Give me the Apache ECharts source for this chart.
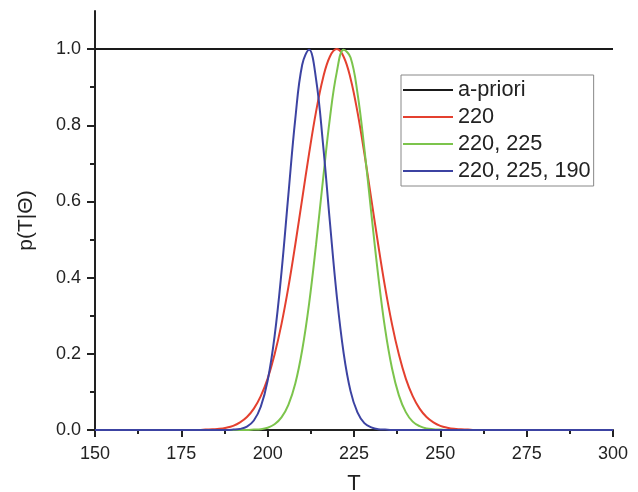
<!DOCTYPE html>
<html>
<head>
<meta charset="utf-8">
<script src="https://cdn.jsdelivr.net/npm/echarts@6/dist/echarts.min.js"></script>
<style>
  html, body { margin: 0; padding: 0; background: #fff; }
  #chart { width: 638px; height: 492px; }
</style>
</head>
<body>
<div id="chart"></div>
<script>
// temperature samples
const T = [150, 180, 182, 184, 186, 188, 190, 192, 194, 196, 198, 200, 202, 204, 206, 208, 210, 212, 214, 216, 218, 220,
  222, 224, 226, 228, 230, 232, 234, 236, 238, 240, 242, 244, 246, 248, 250, 252, 254, 256, 258, 260, 262, 300]

const aPrioriT = [150, 300]
const aPriori = [1, 1]

const obs220 = [0, 0, 0.001, 0.002, 0.003, 0.006, 0.011, 0.020, 0.034, 0.056, 0.089, 0.135, 0.198, 0.278, 0.375, 0.487, 0.607, 0.726, 0.835, 0.923, 0.980, 1.000,
  0.980, 0.923, 0.835, 0.726, 0.607, 0.487, 0.375, 0.278, 0.198, 0.135, 0.089, 0.056, 0.034, 0.020, 0.011, 0.006, 0.003, 0.002, 0.001, 0, 0, 0]

const obs220225 = [0, 0, 0, 0, 0, 0, 0, 0, 0, 0.001, 0.002, 0.006, 0.015, 0.033, 0.066, 0.122, 0.210, 0.332, 0.486, 0.655, 0.817, 0.939,
  0.998, 0.978, 0.885, 0.739, 0.570, 0.406, 0.266, 0.162, 0.091, 0.047, 0.022, 0.010, 0.004, 0.002, 0.001, 0, 0, 0, 0, 0, 0, 0]

const obs220225190 = [0, 0, 0, 0, 0, 0, 0.001, 0.003, 0.009, 0.025, 0.061, 0.130, 0.246, 0.414, 0.618, 0.817, 0.959, 0.998, 0.922, 0.754, 0.548, 0.353,
  0.202, 0.102, 0.046, 0.018, 0.007, 0.002, 0.001, 0, 0, 0, 0, 0, 0, 0, 0, 0, 0, 0, 0, 0, 0, 0]

const majorY = [0, 0.2, 0.4, 0.6, 0.8, 1.0]
const minorY = [0.1, 0.3, 0.5, 0.7, 0.9]

const pairs = (xs, ys) => xs.map((x, i) => [x, ys[i]])

const font = 'Liberation Sans, Arial, sans-serif'
const ink = '#222'

const chart = echarts.init(document.getElementById('chart'))
const option = {
  backgroundColor: '#fff',
  animation: false,
  textStyle: { fontFamily: font },
  grid: { left: 95, right: 25, top: 11, bottom: 62, outerBoundsMode: 'none' },
  legend: {
    orient: 'vertical',
    left: 401,
    top: 75,
    padding: [4, 3, 4, 2],
    borderColor: '#888',
    borderWidth: 1,
    backgroundColor: '#fff',
    icon: 'rect',
    itemWidth: 50,
    itemHeight: 2,
    itemGap: 5,
    textStyle: { fontFamily: font, fontSize: 21.7, lineHeight: 22, color: ink },
    data: ['a-priori', '220', '220, 225', '220, 225, 190'],
  },
  xAxis: {
    type: 'value',
    min: 150,
    max: 300,
    interval: 25,
    name: 'T',
    nameLocation: 'middle',
    nameGap: 43,
    nameTextStyle: { fontSize: 22, color: ink, fontFamily: font },
    axisLine: { lineStyle: { color: ink, width: 2 } },
    axisTick: { length: 7, lineStyle: { color: ink, width: 2 } },
    minorTick: { show: true, splitNumber: 2, length: 4, lineStyle: { color: ink, width: 2 } },
    axisLabel: { fontSize: 18, color: ink, margin: 15, fontFamily: font },
    splitLine: { show: false },
  },
  yAxis: [
    {
      type: 'value',
      min: 0,
      max: 1.1,
      interval: 0.2,
      name: 'p(T|Θ)',
      nameLocation: 'middle',
      nameGap: 58,
      nameTextStyle: { fontSize: 21, color: ink, fontFamily: font },
      axisLine: { show: true, lineStyle: { color: ink, width: 2 } },
      axisTick: { show: true, length: 8, customValues: majorY, lineStyle: { color: ink, width: 2 } },
      axisLabel: {
        customValues: majorY,
        fontSize: 18,
        color: ink,
        margin: 14,
        fontFamily: font,
        formatter: (v) => v.toFixed(1),
      },
      splitLine: { show: false },
    },
    {
      type: 'value',
      min: 0,
      max: 1.1,
      position: 'left',
      axisLine: { show: false },
      axisTick: { show: true, length: 5, customValues: minorY, lineStyle: { color: ink, width: 2 } },
      axisLabel: { show: false },
      splitLine: { show: false },
    },
  ],
  series: [
    {
      name: 'a-priori',
      type: 'line',
      symbol: 'none',
      color: '#1a1a1a',
      lineStyle: { width: 2 },
      data: pairs(aPrioriT, aPriori),
    },
    {
      name: '220',
      type: 'line',
      symbol: 'none',
      smooth: 0.4,
      color: '#e4402f',
      lineStyle: { width: 2 },
      data: pairs(T, obs220),
    },
    {
      name: '220, 225',
      type: 'line',
      symbol: 'none',
      smooth: 0.4,
      color: '#7cc44c',
      lineStyle: { width: 2 },
      data: pairs(T, obs220225),
    },
    {
      name: '220, 225, 190',
      type: 'line',
      symbol: 'none',
      smooth: 0.4,
      color: '#3c43a2',
      lineStyle: { width: 2 },
      data: pairs(T, obs220225190),
    },
  ],
}
chart.setOption(option)
</script>
</body>
</html>
